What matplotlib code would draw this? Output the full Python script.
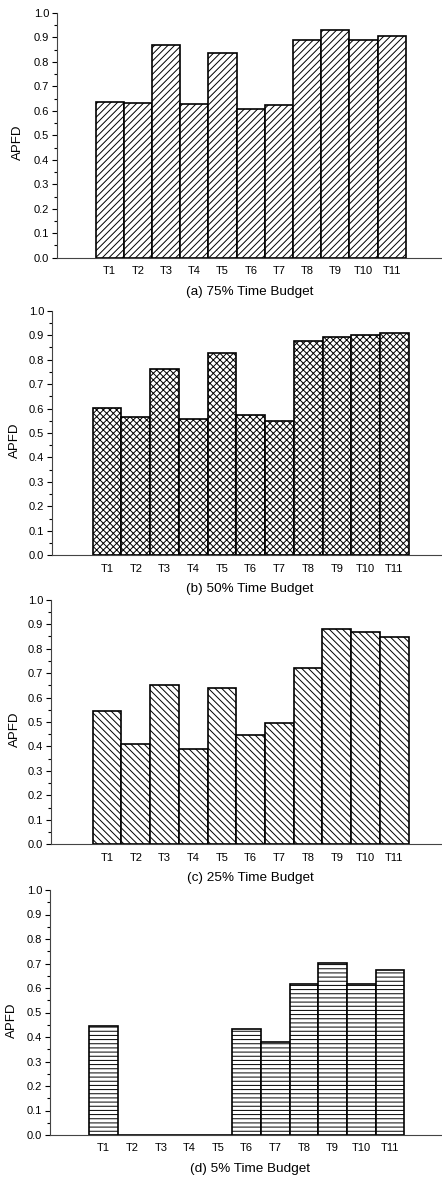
import matplotlib.pyplot as plt
import numpy as np

plt.rcParams['font.family'] = ['Liberation Sans', 'DejaVu Sans']
plt.rcParams['hatch.linewidth'] = 0.7

labels = ['T1', 'T2', 'T3', 'T4', 'T5', 'T6', 'T7', 'T8', 'T9', 'T10', 'T11']
apfd_75 = [0.636, 0.633, 0.870, 0.629, 0.835, 0.609, 0.623, 0.888, 0.930, 0.891, 0.908]
apfd_50 = [0.601, 0.564, 0.760, 0.559, 0.826, 0.575, 0.548, 0.875, 0.894, 0.900, 0.909]
apfd_25 = [0.546, 0.411, 0.650, 0.388, 0.640, 0.448, 0.497, 0.719, 0.879, 0.869, 0.849]
apfd_5 = [0.444, 0.0, 0.0, 0.0, 0.0, 0.431, 0.381, 0.615, 0.702, 0.615, 0.672]
titles = ['(a) 75% Time Budget', '(b) 50% Time Budget',
          '(c) 25% Time Budget', '(d) 5% Time Budget']

W, H = 442, 1178
fig = plt.figure(figsize=(W / 100, H / 100), dpi=100)

# panel layout in pixels: left, top, bottom, xlim, ylabel x
panels = [
    (apfd_75, '/////', 57, 13, 257.7, (-0.87, 12.78), 18),
    (apfd_50, 'xxxxx', 52, 310.7, 555.3, (-0.92, 12.66), 15),
    (apfd_25, '\\\\\\\\\\', 51, 599.7, 844.3, (-0.95, 12.66), 15),
    (apfd_5, '----', 50, 890, 1135, (-0.87, 12.82), 12),
]

x = np.arange(1, len(labels) + 1)
for (vals, hatch, left, top, bottom, xl, ylx), title in zip(panels, titles):
    ax = fig.add_axes([left / W, 1 - bottom / H, (W - left) / W, (bottom - top) / H])
    ax.bar(x, vals, width=1.0, color='white', edgecolor='black',
           linewidth=1.2, hatch=hatch)
    ax.set_xlim(*xl)
    ax.set_ylim(0, 1.0)
    ax.set_yticks(np.arange(0, 1.01, 0.1))
    ax.set_yticks(np.arange(0.05, 1.0, 0.1), minor=True)
    ax.set_yticklabels(['%.1f' % v for v in np.arange(0, 1.01, 0.1)])
    ax.set_xticks(x)
    ax.set_xticklabels(labels)
    ax.tick_params(axis='x', length=0, pad=6, labelsize=8)
    ax.tick_params(axis='y', which='major', length=3.5, width=0.8, labelsize=8, pad=2)
    ax.tick_params(axis='y', which='minor', length=2, width=0.8)
    for s in ['top', 'right']:
        ax.spines[s].set_visible(False)
    ax.spines['left'].set_color('#444444')
    ax.spines['bottom'].set_color('#444444')
    h = bottom - top
    ax.set_ylabel('APFD', fontsize=9.5)
    ax.yaxis.set_label_coords((ylx - left) / (W - left), 0.47)
    ax.yaxis.label.set_va('center')
    ax.set_xlabel(title, fontsize=9.7)
    ax.xaxis.set_label_coords((250 - left) / (W - left), -34 / h)
    ax.xaxis.label.set_va('center')

fig.savefig('out.png', dpi=100)
